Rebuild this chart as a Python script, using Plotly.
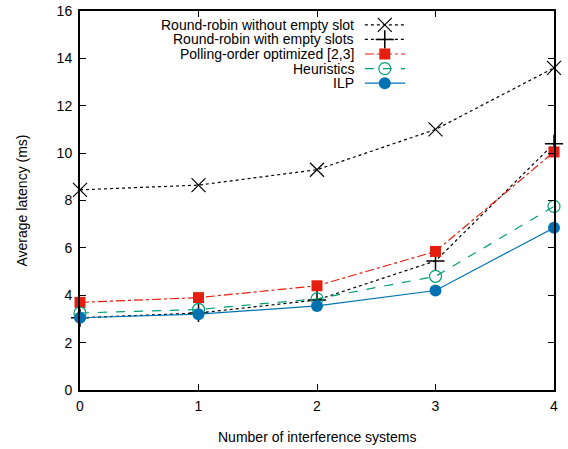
import plotly.graph_objects as go

x_vals = [0, 1, 2, 3, 4]
rr_without = [8.45, 8.65, 9.3, 11.0, 13.6]
rr_with = [3.05, 3.25, 3.8, 5.45, 10.4]
polling = [3.7, 3.9, 4.4, 5.85, 10.05]
heuristics = [3.25, 3.4, 3.85, 4.8, 7.75]
ilp = [3.05, 3.2, 3.55, 4.2, 6.85]

names = ["Round-robin without empty slot", "Round-robin with empty slots",
         "Polling-order optimized [2,3]", "Heuristics", "ILP"]
series = [rr_without, rr_with, polling, heuristics, ilp]
styles = [
    dict(color="black", dash="dot", symbol="x-thin-open", size=14, mline=1.2, mcolor="black"),
    dict(color="black", dash="dot", symbol="cross-thin-open", size=13, mline=1.5, mcolor="black"),
    dict(color="#e51e10", dash="dashdot", symbol="square", size=11, mline=0, mcolor="#e51e10"),
    dict(color="#009e73", dash="dash", symbol="circle-open", size=12, mline=1.2, mcolor="#009e73"),
    dict(color="#0072b2", dash="solid", symbol="circle", size=12, mline=0, mcolor="#0072b2"),
]

FONT = "Liberation Sans, Arial, sans-serif"
PLOT_W = 474.0
PLOT_H = 379.5

fig = go.Figure()
for name, ys, st in zip(names, series, styles):
    fig.add_trace(go.Scatter(
        x=x_vals, y=ys, mode="lines+markers", name=name, showlegend=False,
        cliponaxis=False,
        line=dict(color=st["color"], dash=st["dash"], width=1.2),
        marker=dict(symbol=st["symbol"], size=st["size"], color=st["mcolor"],
                    line=dict(width=st["mline"], color=st["mcolor"])),
    ))

# custom gnuplot-style legend (text right-aligned, sample on the right)
row0 = 0.9636
drow = 0.0385
for i, (name, st) in enumerate(zip(names, styles)):
    yy = row0 - i * drow
    fig.add_trace(go.Scatter(
        x=[0.601, 0.686], y=[yy, yy], xaxis="x2", yaxis="y2", mode="lines",
        line=dict(color=st["color"], dash=st["dash"], width=1.2), showlegend=False,
        hoverinfo="skip", cliponaxis=False))
    fig.add_trace(go.Scatter(
        x=[0.643], y=[yy], xaxis="x2", yaxis="y2", mode="markers",
        marker=dict(symbol=st["symbol"], size=st["size"], color=st["mcolor"],
                    line=dict(width=st["mline"], color=st["mcolor"])),
        showlegend=False, hoverinfo="skip", cliponaxis=False))
    fig.add_annotation(text=name, xref="paper", yref="paper", x=0.582, y=yy,
                       xanchor="right", yanchor="middle", showarrow=False,
                       font=dict(size=14, color="black", family=FONT))

# axis titles
fig.add_annotation(text="Number of interference systems", xref="paper", yref="paper",
                   x=0.5, y=-47 / PLOT_H, xanchor="center", yanchor="middle",
                   showarrow=False, font=dict(size=14, color="black", family=FONT))
fig.add_annotation(text="Average latency (ms)", xref="paper", yref="paper",
                   x=-59 / PLOT_W, y=0.5, xanchor="center", yanchor="middle", textangle=-90,
                   showarrow=False, font=dict(size=14, color="black", family=FONT))

axis_common = dict(showgrid=False, zeroline=False, showline=True, linecolor="black",
                   linewidth=2, mirror="ticks", ticks="inside", ticklen=6,
                   tickcolor="black", tickwidth=1, automargin=False,
                   ticklabeloverflow="allow",
                   tickfont=dict(size=14, color="black", family=FONT))

fig.update_layout(
    width=568, height=449,
    margin=dict(l=80, r=14, t=10.5, b=59, autoexpand=False),
    paper_bgcolor="white", plot_bgcolor="white",
    font=dict(family=FONT, size=14, color="black"),
    xaxis=dict(range=[0, 4], tickvals=x_vals, ticklabelstandoff=2, **axis_common),
    yaxis=dict(range=[0, 16], dtick=2, ticklabelstandoff=3, **axis_common),
    xaxis2=dict(range=[0, 1], overlaying="x", visible=False),
    yaxis2=dict(range=[0, 1], overlaying="y", visible=False),
    showlegend=False,
)

fig.write_html("out.html", config={"displayModeBar": False},
               post_script="document.body.style.margin='0px';document.body.style.overflow='hidden';")
